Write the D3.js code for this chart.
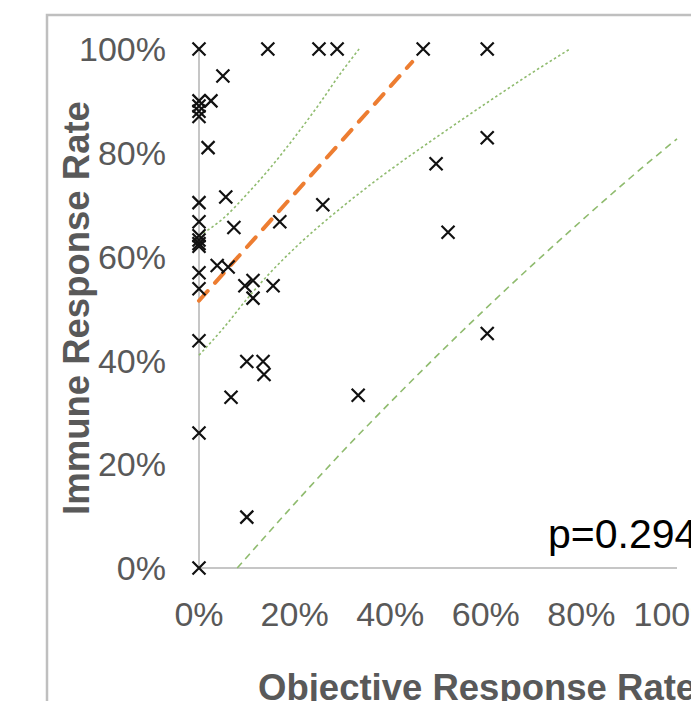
<!DOCTYPE html>
<meta charset="utf-8">
<title>Immune vs Objective Response Rate</title>
<script src="https://d3js.org/d3.v7.min.js"></script>
<style>
  body { margin: 0; background: #fff; }
  text { font-family: Arial, "Liberation Sans", sans-serif; }
  text.tick { font-size: 34px; fill: #595959; }
  text.title { font-size: 36.5px; font-weight: bold; fill: #595959; }
  text.pval { font-size: 41px; fill: #000; }
</style>
<body>
<div id="chart"></div>
<script>
// observed points (objective response rate, immune response rate)
var orr = [0, 0.144, 0.251, 0.289, 0.469, 0.603,
  0.05, 0, 0, 0, 0, 0.025, 0.019, 0.603, 0.496,
  0.056, 0, 0.259, 0.521, 0, 0.073, 0.169,
  0, 0, 0, 0, 0.038, 0.061, 0, 0, 0.096, 0.113, 0.113, 0.155,
  0, 0.10, 0.134, 0.136, 0.067, 0.333, 0.603, 0, 0.10, 0];
var irr = [1, 1, 1, 1, 1, 1,
  0.948, 0.90, 0.89, 0.88, 0.87, 0.90, 0.81, 0.829, 0.779,
  0.715, 0.704, 0.70, 0.647, 0.667, 0.656, 0.667,
  0.64, 0.632, 0.625, 0.62, 0.583, 0.58, 0.569, 0.538, 0.544, 0.554, 0.52, 0.544,
  0.438, 0.398, 0.398, 0.373, 0.329, 0.333, 0.452, 0.26, 0.098, 0];

// regression line ends
var fitX = [0, 0.446];
var fitY = [0.515, 0.975];

// confidence band
var ciUpX = [0, 0.05, 0.1, 0.15, 0.2, 0.25, 0.3, 0.335];
var ciUpY = [0.64, 0.673, 0.72, 0.772, 0.83, 0.892, 0.958, 1.0];
var ciLoX = [0, 0.05, 0.1, 0.15, 0.2, 0.3, 0.4, 0.5, 0.6, 0.7, 0.776];
var ciLoY = [0.41, 0.461, 0.518, 0.57, 0.616, 0.696, 0.767, 0.832, 0.895, 0.956, 1.0];

// lower prediction bound
var piLoX = [0.08, 0.2, 0.3, 0.4, 0.5, 0.6, 0.7, 0.8, 0.9, 1.0];
var piLoY = [0, 0.124, 0.224, 0.319, 0.411, 0.50, 0.586, 0.669, 0.75, 0.827];

var ticks = [0, 0.2, 0.4, 0.6, 0.8, 1];
var pLabel = "p=0.294";

var W = 691, H = 701;
var svg = d3.select("#chart").append("svg")
  .attr("width", W).attr("height", H);

// outer frame of the pasted figure
svg.append("rect")
  .attr("x", 47).attr("y", 15)
  .attr("width", 800).attr("height", 800)
  .attr("fill", "none")
  .attr("stroke", "#bfbfbf")
  .attr("stroke-width", 2.5);

var x = d3.scaleLinear().domain([0, 1]).range([199, 677]);
var y = d3.scaleLinear().domain([0, 1]).range([568, 49]);
var fmt = d3.format(".0%");

// axes lines
svg.append("line")
  .attr("x1", x(0)).attr("x2", x(0)).attr("y1", y(1)).attr("y2", y(0))
  .attr("stroke", "#c6c6c6").attr("stroke-width", 2);
svg.append("line")
  .attr("x1", x(0)).attr("x2", x(1)).attr("y1", y(0)).attr("y2", y(0))
  .attr("stroke", "#c6c6c6").attr("stroke-width", 2);

svg.selectAll("text.ytick").data(ticks).enter().append("text")
  .attr("class", "tick ytick")
  .attr("x", 166)
  .attr("y", function(d) { return y(d); })
  .attr("dy", "0.36em")
  .attr("text-anchor", "end")
  .text(fmt);

svg.selectAll("text.xtick").data(ticks).enter().append("text")
  .attr("class", "tick xtick")
  .attr("x", function(d) { return x(d); })
  .attr("y", 626)
  .attr("text-anchor", "middle")
  .text(fmt);

var line = d3.line()
  .x(function(d) { return x(d[0]); })
  .y(function(d) { return y(d[1]); });
var smooth = d3.line()
  .x(function(d) { return x(d[0]); })
  .y(function(d) { return y(d[1]); })
  .curve(d3.curveMonotoneX);

// bands
svg.append("path")
  .datum(d3.zip(ciUpX, ciUpY))
  .attr("d", smooth)
  .attr("fill", "none").attr("stroke", "#8fbb6e")
  .attr("stroke-width", 1.6).attr("stroke-dasharray", "2.5,2.5");
svg.append("path")
  .datum(d3.zip(ciLoX, ciLoY))
  .attr("d", smooth)
  .attr("fill", "none").attr("stroke", "#8fbb6e")
  .attr("stroke-width", 1.6).attr("stroke-dasharray", "2.5,2.5");
svg.append("path")
  .datum(d3.zip(piLoX, piLoY))
  .attr("d", smooth)
  .attr("fill", "none").attr("stroke", "#8fbb6e")
  .attr("stroke-width", 1.6).attr("stroke-dasharray", "7,5");

// regression line
svg.append("path")
  .datum(d3.zip(fitX, fitY))
  .attr("d", line)
  .attr("fill", "none").attr("stroke", "#ed7d31")
  .attr("stroke-width", 4).attr("stroke-linecap", "round")
  .attr("stroke-dasharray", "13,11");

// x markers
var s = 6.5;
svg.append("g").selectAll("path")
  .data(d3.zip(orr, irr))
  .enter().append("path")
  .attr("d", function(d) {
    var cx = x(d[0]), cy = y(d[1]);
    return "M" + (cx - s) + "," + (cy - s) + "L" + (cx + s) + "," + (cy + s) +
           "M" + (cx - s) + "," + (cy + s) + "L" + (cx + s) + "," + (cy - s);
  })
  .attr("stroke", "#111").attr("stroke-width", 2.2).attr("fill", "none");

svg.append("text")
  .attr("class", "pval")
  .attr("x", 548).attr("y", 548)
  .text(pLabel);

svg.append("text")
  .attr("class", "title")
  .attr("transform", "translate(89,308) rotate(-90)")
  .attr("text-anchor", "middle")
  .text("Immune Response Rate");

svg.append("text")
  .attr("class", "title")
  .attr("x", 258).attr("y", 700)
  .text("Objective Response Rate");
</script>
